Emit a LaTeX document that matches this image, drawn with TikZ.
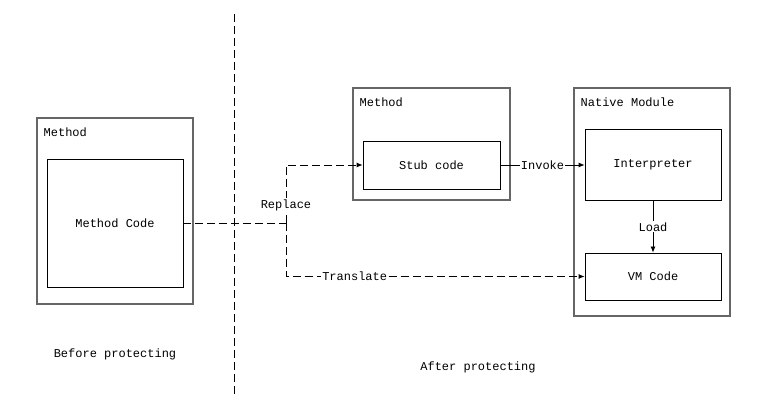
\documentclass[tikz,border=0pt]{standalone}
\usepackage{fontspec}
\setmonofont{Liberation Mono}
\usetikzlibrary{arrows.meta,positioning}
\tikzset{
  module/.style={draw=black!60,line width=1.1pt,inner sep=0pt},
  block/.style={draw=black,line width=0.8pt,inner sep=0pt,align=center},
  tag/.style={inner sep=0pt},
  edgelabel/.style={fill=white,inner sep=1pt},
  flow/.style={-{Latex[length=6pt,width=5pt]},line width=0.8pt},
  dline/.style={line width=0.8pt,dash pattern=on 8pt off 4pt},
  dflow/.style={flow,dash pattern=on 8pt off 4pt}
}

\begin{document}
\begin{tikzpicture}[x=1pt,y=-1pt,font=\ttfamily\fontsize{12}{14}\selectfont]
  \useasboundingbox (0,0) rectangle (768,411);
  % before protecting
  \node[module,minimum width=156pt,minimum height=186pt] (oldmethod) at (115,211) {};
  \node[tag,below right=10pt and 7pt of oldmethod.north west] (oldtitle) {Method};
  \node[block,minimum width=136pt,minimum height=128pt] (mcode) at (115,223) {Method Code};
  % after protecting
  \node[module,minimum width=157pt,minimum height=112pt] (newmethod) at (431.5,144) {};
  \node[tag,below right=10pt and 7pt of newmethod.north west] (newtitle) {Method};
  \node[block,minimum width=137pt,minimum height=48pt] (stub) at (431.5,165) {Stub code};
  \node[module,minimum width=156pt,minimum height=228pt] (native) at (652,202) {};
  \node[tag,below right=10pt and 7pt of native.north west] (nativetitle) {Native Module};
  \node[block,minimum width=136pt,minimum height=71pt] (interp) at (653,165) {Interpreter};
  \node[block,minimum width=136pt,minimum height=47pt] (vmcode) at (653,276.5) {VM Code};
  % divider
  \coordinate (divtop) at (234,14);
  \coordinate (divbot) at (234,395);
  \draw[dline] (divtop) -- (divbot);
  \node (beforelbl) at (115,354) {Before protecting};
  \node (afterlbl) at (478,367) {After protecting};
  % connectors
  \coordinate (fork) at (286,223);
  \draw[dline] (mcode.east) -- (fork);
  \draw[dflow] (fork) |- node[edgelabel,pos=0.155] {Replace} (stub.west);
  \draw[dflow] (fork) |- node[edgelabel,pos=0.615] {Translate} (vmcode.west);
  \draw[flow] (stub) -- node[edgelabel] {Invoke} (interp);
  \draw[flow] (interp) -- node[edgelabel] {Load} (vmcode);
\end{tikzpicture}
\end{document}
